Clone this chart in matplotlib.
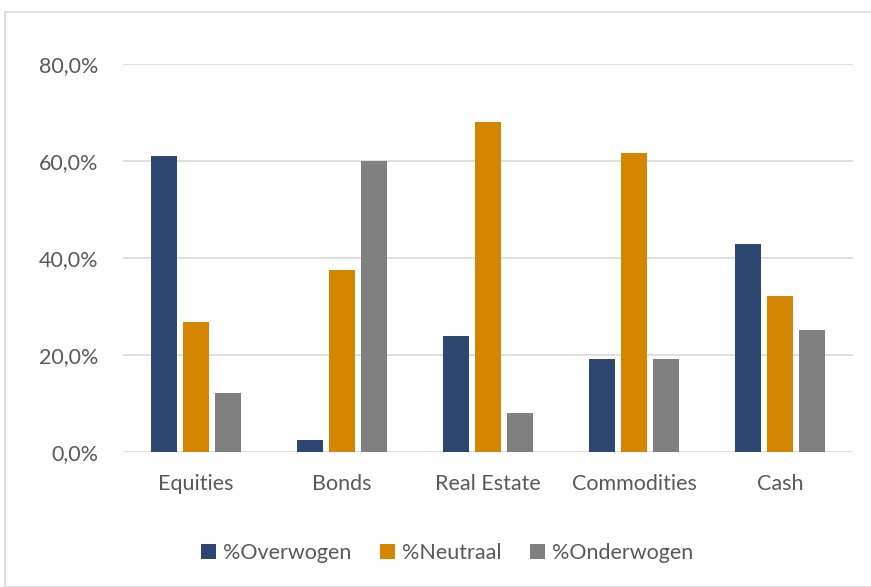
import numpy as np
import matplotlib
matplotlib.use("Agg")
import matplotlib.pyplot as plt
from matplotlib.patches import Rectangle
from matplotlib.ticker import FuncFormatter

categories = ["Equities", "Bonds", "Real Estate", "Commodities", "Cash"]
overwogen = [61.0, 2.4, 24.0, 19.2, 42.8]
neutraal = [26.8, 37.5, 68.0, 61.6, 32.2]
onderwogen = [12.2, 60.0, 8.0, 19.2, 25.1]
series_names = ["%Overwogen", "%Neutraal", "%Onderwogen"]
colors = ["#2D4870", "#D58600", "#808080"]

plt.rcParams["font.family"] = ["Lato", "DejaVu Sans"]
TXT = "#595959"
FS = 15.5

fig = plt.figure(figsize=(8.71, 5.87), dpi=100)
# chart frame (Excel-style border)
fig.patches.append(Rectangle((5 / 871, 0), 1, 1 - 12 / 587, transform=fig.transFigure,
                             fill=False, edgecolor="#D9D9D9", linewidth=1.2))

ax = fig.add_axes([123 / 871, 1 - 452 / 587, 730 / 871, 388 / 587])
x = np.arange(len(categories))
w = 0.173
step = 0.219
for i, (vals, name, c) in enumerate(zip([overwogen, neutraal, onderwogen], series_names, colors)):
    ax.bar(x + (i - 1) * step, vals, width=w, color=c, label=name, zorder=3)

ax.set_xlim(-0.5, len(categories) - 0.5)
ax.set_ylim(0, 80)
ax.set_yticks([0, 20, 40, 60, 80])
ax.yaxis.set_major_formatter(FuncFormatter(lambda v, p: f"{v:.1f}%".replace(".", ",")))
ax.set_xticks(x)
ax.set_xticklabels(categories)
ax.grid(axis="y", color="#D9D9D9", linewidth=1.2, zorder=0)
for s in ax.spines.values():
    s.set_visible(False)
ax.tick_params(length=0, labelsize=FS, colors=TXT)
ax.tick_params(axis="y", pad=18)
ax.tick_params(axis="x", pad=16)

leg = fig.legend(loc="center", bbox_to_anchor=(447 / 871, 1 - 553 / 587), ncol=3,
                 frameon=False, fontsize=FS, handlelength=0.7, handleheight=0.7,
                 handletextpad=0.3, columnspacing=1.35)
for t in leg.get_texts():
    t.set_color(TXT)

fig.savefig("out.png", dpi=100)
